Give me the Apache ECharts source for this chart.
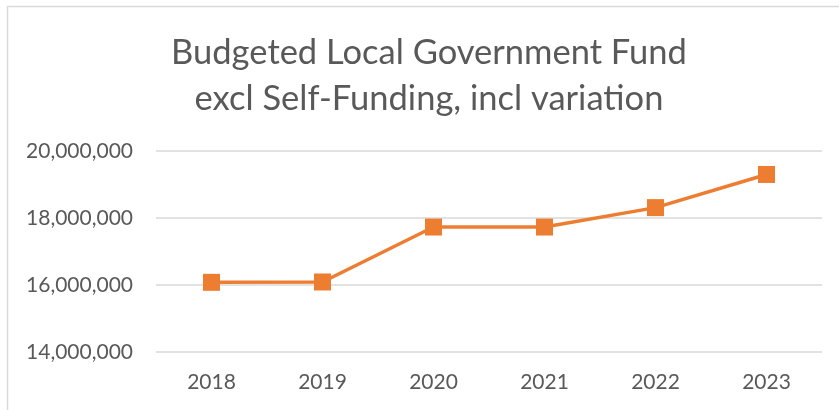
<!DOCTYPE html>
<html>
<head>
<meta charset="utf-8">
<script src="https://cdn.jsdelivr.net/npm/echarts@6/dist/echarts.min.js"></script>
<style>
  html, body { margin: 0; padding: 0; background: #fff; }
  #chart { width: 839px; height: 410px; }
</style>
</head>
<body>
<div id="chart"></div>
<script>
// data
const years = ['2018', '2019', '2020', '2021', '2022', '2023']
const fundValues = [16080000, 16090000, 17730000, 17730000, 18310000, 19300000]
const titleLines = ['Budgeted Local Government Fund', 'excl Self-Funding, incl variation']

const textColor = '#595959'
const gridColor = '#d9d9d9'
const lineColor = '#ED7D31'

const myChart = echarts.init(document.getElementById('chart'))
const option = {
  backgroundColor: '#fff',
  animation: false,
  // chart frame (top and left edge visible)
  graphic: [
    {
      type: 'rect',
      shape: { x: 7.5, y: 6.5, width: 900, height: 500 },
      style: { fill: 'none', stroke: gridColor, lineWidth: 1.5 },
      silent: true
    }
  ],
  title: {
    text: titleLines.join('\n'),
    left: 424,
    top: 25,
    textAlign: 'center',
    textStyle: {
      fontFamily: 'Lato',
      fontSize: 34.5,
      fontWeight: 'normal',
      color: textColor,
      lineHeight: 46
    }
  },
  grid: {
    left: 156,
    right: 17,
    top: 151,
    bottom: 58,
    containLabel: false
  },
  xAxis: {
    type: 'category',
    boundaryGap: true,
    data: years,
    axisLine: { show: false },
    axisTick: { show: false },
    axisLabel: {
      margin: 20,
      fontFamily: 'Lato',
      fontSize: 21,
      color: textColor
    }
  },
  yAxis: {
    type: 'value',
    min: 14000000,
    max: 20000000,
    interval: 2000000,
    axisLine: { show: false },
    axisTick: { show: false },
    axisLabel: {
      margin: 23,
      fontFamily: 'Lato',
      fontSize: 21,
      color: textColor,
      formatter: v => v.toLocaleString('en-US')
    },
    splitLine: {
      lineStyle: { color: gridColor, width: 1.5 }
    }
  },
  series: [
    {
      name: 'Fund',
      type: 'line',
      data: fundValues,
      symbol: 'rect',
      symbolSize: 17,
      lineStyle: { color: lineColor, width: 3.5 },
      itemStyle: { color: lineColor }
    }
  ]
}
myChart.setOption(option)
</script>
</body>
</html>
